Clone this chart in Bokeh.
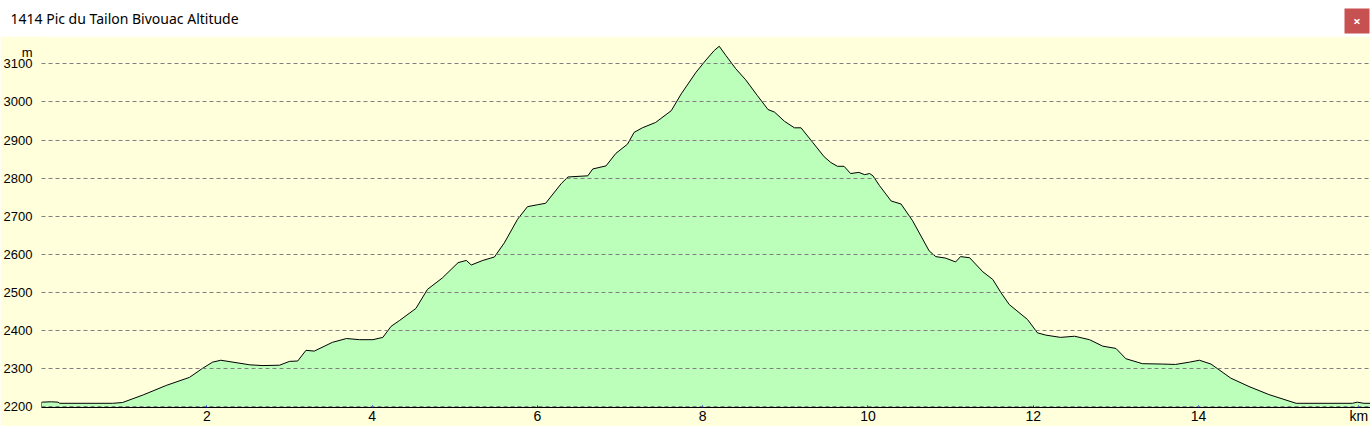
from bokeh.plotting import figure
from bokeh.models import FixedTicker, Range1d
from bokeh.layouts import column
from bokeh.embed import file_html
from bokeh.resources import INLINE
from bokeh.core.properties import value

TITLE = "1414 Pic du Tailon Bivouac Altitude"
X_UNIT = "km"
Y_UNIT = "m"

distance_km = [
    0.00, 0.12, 0.20, 0.22, 0.86, 0.98, 1.23, 1.51, 1.79, 1.95, 2.07, 2.17, 2.52, 2.68, 2.88,
    3.00, 3.10, 3.20, 3.30, 3.52, 3.69, 3.85, 4.01, 4.13, 4.23, 4.33, 4.53, 4.67, 4.85, 5.04,
    5.14, 5.20, 5.34, 5.48, 5.60, 5.76, 5.88, 6.00, 6.10, 6.29, 6.37, 6.61, 6.67, 6.83, 6.95,
    7.09, 7.17, 7.27, 7.43, 7.62, 7.74, 7.92, 8.04, 8.14, 8.20, 8.28, 8.40, 8.52, 8.66, 8.79,
    8.87, 8.99, 9.11, 9.19, 9.33, 9.47, 9.55, 9.63, 9.71, 9.79, 9.89, 9.96, 10.02, 10.06, 10.14,
    10.28, 10.40, 10.54, 10.74, 10.82, 10.94, 11.06, 11.12, 11.23, 11.39, 11.51, 11.61, 11.71,
    11.93, 12.05, 12.15, 12.33, 12.50, 12.68, 12.84, 13.00, 13.12, 13.32, 13.56, 13.72, 13.89,
    14.01, 14.15, 14.39, 14.61, 14.85, 15.18, 15.86, 15.92, 16.00, 16.08,
]
altitude_m = [
    2212, 2213, 2212, 2209, 2209, 2211, 2231, 2256, 2277, 2301, 2317, 2322, 2310, 2308, 2309,
    2319, 2320, 2348, 2346, 2369, 2379, 2376, 2376, 2382, 2411, 2426, 2458, 2508, 2538, 2578,
    2584, 2572, 2584, 2593, 2630, 2692, 2725, 2730, 2734, 2786, 2803, 2806, 2824, 2832, 2865,
    2889, 2920, 2932, 2946, 2977, 3021, 3078, 3110, 3135, 3146, 3122, 3087, 3058, 3017, 2980,
    2973, 2949, 2932, 2932, 2894, 2856, 2841, 2831, 2831, 2812, 2815, 2809, 2812, 2806, 2780,
    2740, 2732, 2688, 2609, 2594, 2590, 2580, 2594, 2591, 2554, 2534, 2499, 2468,
    2429, 2394, 2388, 2382, 2385, 2376, 2359, 2353, 2326, 2313, 2312, 2311, 2317,
    2322, 2312, 2275, 2253, 2232, 2209, 2209, 2212, 2209, 2209,
]
x_ticks = [2, 4, 6, 8, 10, 12, 14]
y_ticks = [2200, 2300, 2400, 2500, 2600, 2700, 2800, 2900, 3000, 3100]

X_MIN, X_MAX = 0.0, 16.08
Y_MIN, Y_MAX = 2198, 3169
X_UNIT_AT = 15.94   # where the "km" unit text sits on the x axis
Y_UNIT_AT = 3130    # where the "m" unit text sits on the y axis

W = 1370
BAR_H = 36
MAIN_H = 390
FONT = "Noto Sans"
AXIS_FONT = "Liberation Sans"
YELLOW = "#FFFFDC"
GREEN = "#BBFFBB"

# ---- title bar ----
bar = figure(width=W, height=BAR_H, x_range=Range1d(0, W), y_range=Range1d(0, BAR_H),
             x_axis_type=None, y_axis_type=None, toolbar_location=None,
             output_backend="svg", min_border=0)
bar.frame_align = False
bar.background_fill_color = "white"
bar.border_fill_color = "white"
bar.outline_line_color = None
bar.xgrid.visible = False
bar.ygrid.visible = False
bar.text(x=[10], y=[18], text=[TITLE], text_font=value(FONT),
         text_font_size="14px", text_color="#000000", text_baseline="middle", text_align="left")
bar.rect(x=[W - 13.5], y=[15.5], width=25, height=25,
         fill_color="#C75050", line_color=None)
bar.text(x=[W - 13.5], y=[15.5], text=["×"], text_font=value(FONT),
         text_font_size="13px", text_font_style="bold", text_color="white",
         text_baseline="middle", text_align="center")

# ---- main chart ----
p = figure(width=W, height=MAIN_H, x_range=Range1d(X_MIN, X_MAX), y_range=Range1d(Y_MIN, Y_MAX),
           toolbar_location=None, output_backend="svg",
           min_border_left=39, min_border_right=0, min_border_top=1, min_border_bottom=19)
p.frame_align = False
p.background_fill_color = YELLOW
p.border_fill_color = YELLOW
p.outline_line_color = None

xs = [distance_km[0]] + distance_km + [distance_km[-1]]
ys = [Y_MIN] + altitude_m + [Y_MIN]
p.patch(xs, ys, fill_color=GREEN, line_color="black", line_width=1)

p.xgrid.visible = False
p.ygrid.ticker = FixedTicker(ticks=y_ticks)
p.ygrid.grid_line_color = "#808080"
p.ygrid.grid_line_dash = "4 3"
p.ygrid.grid_line_width = 1
p.ygrid.level = "overlay"

p.xaxis.ticker = FixedTicker(ticks=x_ticks + [X_UNIT_AT])
p.xaxis.major_label_overrides = {X_UNIT_AT: X_UNIT}
p.xaxis.axis_line_color = "black"
p.xaxis.axis_line_width = 1
p.xaxis.major_tick_line_color = "#0000FF"
p.xaxis.major_tick_in = 2
p.xaxis.major_tick_out = 0
p.xaxis.minor_tick_line_color = None
p.xaxis.major_label_text_font = AXIS_FONT
p.xaxis.major_label_text_font_size = "14px"
p.xaxis.major_label_text_color = "black"
p.xaxis.major_label_standoff = 0

p.yaxis.ticker = FixedTicker(ticks=y_ticks + [Y_UNIT_AT])
p.yaxis.major_label_overrides = {Y_UNIT_AT: Y_UNIT}
p.yaxis.axis_line_color = None
p.yaxis.major_tick_line_color = None
p.yaxis.minor_tick_line_color = None
p.yaxis.major_label_text_font = AXIS_FONT
p.yaxis.major_label_text_font_size = "13px"
p.yaxis.major_label_text_color = "black"
p.yaxis.major_label_standoff = 3

layout = column(bar, p, spacing=0)
open("out.html", "w").write(file_html(layout, INLINE))
